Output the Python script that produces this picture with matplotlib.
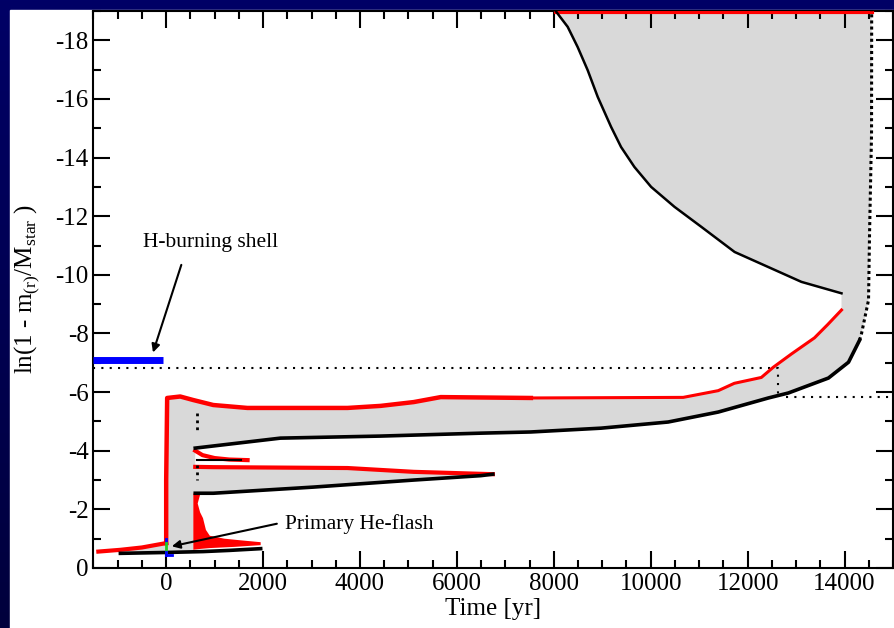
import numpy as np
import matplotlib
matplotlib.use('Agg')
import matplotlib.pyplot as plt
from matplotlib.patches import Rectangle
from matplotlib.ticker import MultipleLocator

plt.rcParams['font.family'] = ['Liberation Serif', 'DejaVu Serif']
plt.rcParams['axes.unicode_minus'] = False
plt.rcParams['mathtext.fontset'] = 'custom'
plt.rcParams['mathtext.rm'] = 'Liberation Serif'

# Outer (red) edge of the flash driven convective shell, time in yr, ln(1-m/M)
shell_top_x = [0, 0, 20, 290, 558, 972, 1675, 3743, 4425, 5108, 5666, 7527,
               10670, 11394, 11725, 12283, 12531, 12903, 13379, 13650, 13937]
shell_top_y = [-0.85, -3.0, -5.8, -5.85, -5.73, -5.56, -5.46, -5.46, -5.53, -5.66,
               -5.83, -5.8, -5.82, -6.05, -6.3, -6.5, -6.85, -7.3, -7.85, -8.3, -8.8]

# Inner (black) edge of the shell
shell_base_x = [600, 2357, 4425, 6500, 7527, 8975, 10360, 11394, 12428, 12841,
                13668, 14082, 14310]
shell_base_y = [-4.09, -4.43, -4.5, -4.6, -4.64, -4.77, -4.98, -5.32, -5.8, -5.97,
                -6.48, -7.02, -7.77]

# Envelope convection: right edge and base
env_right_x = [14310, 14351, 14495, 14516, 14557, 14560]
env_right_y = [-7.77, -8.0, -9.14, -11.4, -14.8, -19.0]
env_base_x = [13937, 13110, 12421, 11731, 11042, 10490, 10008, 9663, 9388, 9181,
              8906, 8699, 8492, 8286, 8079, 8040]
env_base_y = [-9.37, -9.76, -10.27, -10.78, -11.64, -12.32, -13.0, -13.68, -14.36,
              -15.05, -16.07, -16.98, -17.77, -18.46, -18.91, -19.0]

# Second convective band
mid_top_x = [600, 972, 3743, 5108, 6741]
mid_top_y = [-3.45, -3.44, -3.41, -3.28, -3.2]
mid_base_x = [600, 972, 3040, 5108, 6493, 6741]
mid_base_y = [-2.55, -2.55, -2.76, -3.0, -3.15, -3.2]

# Short lived tongue
tongue_x = [600, 750, 1000, 1300, 1680]
tongue_y = [-4.0, -3.85, -3.75, -3.7, -3.68]

# Pre-flash region near the bottom
pre_red_x = [-1400, -945, -500, 0]
pre_red_y = [-0.56, -0.62, -0.7, -0.85]
pre_black_x = [-945, 0, 760, 1300, 1950]
pre_black_y = [-0.5, -0.53, -0.56, -0.6, -0.66]

blob_x = [560, 700, 650, 700, 760, 820, 900, 1200, 1500, 1950, 1950, 1400, 900, 700, 560]
blob_y = [-2.55, -2.5, -2.2, -1.9, -1.7, -1.3, -1.1, -1.0, -0.95, -0.88, -0.78,
          -0.72, -0.68, -0.65, -0.62]

# H-burning shell before the flash
hshell_x = [-1500, -60]
hshell_y = [-7.1, -7.1]

# Dotted guide lines
guide1_x = [-1500, 12634, 12634]
guide1_y = [-6.83, -6.83, -5.9]
guide2_x = [12800, 15000]
guide2_y = [-5.83, -5.83]

fig = plt.figure(figsize=(8.95, 6.28), dpi=100)

# dark blue frame behind a white panel
bg = fig.add_axes([0, 0, 1, 1], zorder=-10)
grad = np.linspace(0, 1, 256).reshape(-1, 1)
bg.imshow(grad, aspect='auto', extent=[0, 1, 0, 1],
          cmap=matplotlib.colors.LinearSegmentedColormap.from_list('navy', ['#000066', '#00003c']))
bg.axis('off')
fig.add_artist(Rectangle((10 / 895, 0), (893 - 10) / 895, 618 / 628,
                         transform=fig.transFigure, color='white', zorder=-5))

ax = fig.add_axes([93.5 / 895, 60 / 628, (893 - 93.5) / 895, (568 - 11) / 628])
ax.set_facecolor('white')

grey = '#d9d9d9'
# main convective region: shell + envelope joined
poly_x = (shell_top_x + env_base_x + [14560] + env_right_x[::-1] + shell_base_x[::-1]
          + mid_top_x + mid_base_x[::-1] + [560, 560, 0])
poly_y = (shell_top_y + env_base_y + [-19.0] + env_right_y[::-1] + shell_base_y[::-1]
          + mid_top_y + mid_base_y[::-1] + [-2.55, -0.58, -0.53])
ax.fill(poly_x, poly_y, color=grey, lw=0, zorder=1)
ax.fill(pre_red_x[1:] + pre_black_x[:2][::-1], pre_red_y[1:] + pre_black_y[:2][::-1],
        color=grey, lw=0, zorder=1)

# guides
ax.plot(guide1_x, guide1_y, color='black', ls=(0, (1, 3)), lw=1.5, zorder=2)
ax.plot(guide2_x, guide2_y, color='black', ls=(0, (1, 3)), lw=1.5, zorder=2)

# red boundaries
ax.plot(shell_top_x[:12], shell_top_y[:12], color='red', lw=3.2, zorder=3)
ax.plot(shell_top_x[11:], shell_top_y[11:], color='red', lw=2.2, zorder=3)
ax.plot(mid_top_x, mid_top_y, color='red', lw=3, zorder=3)
ax.plot(tongue_x, tongue_y, color='red', lw=3, zorder=3)
ax.plot([env_base_x[-1], env_right_x[-2]], [-18.95, -18.95], color='red', lw=3, zorder=3)
ax.plot(pre_red_x, pre_red_y, color='red', lw=3, zorder=3)
ax.fill(blob_x, blob_y, color='red', lw=0, zorder=3)

# black boundaries
ax.plot(shell_base_x, shell_base_y, color='black', lw=2.6, zorder=4)
ax.plot(mid_base_x, mid_base_y, color='black', lw=2.6, zorder=4)
ax.plot(env_base_x, env_base_y, color='black', lw=1.8, zorder=4)
ax.plot(env_right_x, env_right_y, color='black', ls=(0, (1, 1)), lw=2.2, zorder=4)
ax.plot(pre_black_x, pre_black_y, color='black', lw=2.6, zorder=4)
ax.plot([630, 630], [-5.3, -4.6], color='black', ls=(0, (1, 1.5)), lw=2, zorder=4)
ax.plot([630, 630], [-3.5, -3.0], color='black', ls=(0, (1, 1.5)), lw=2, zorder=4)
ax.plot([630, 1550], [-3.68, -3.68], color='black', lw=1.5, zorder=4)

# H-burning shell and flash marker
ax.plot(hshell_x, hshell_y, color='blue', lw=5, solid_capstyle='butt', zorder=5)
ax.plot([0, 0], [-1.0, -0.85], color='blue', lw=2, zorder=5)
ax.plot([0, 0], [-0.85, -0.55], color='#22cc22', lw=2, zorder=5)
ax.plot([0, 0], [-0.55, -0.45], color='blue', lw=2, zorder=5)
ax.plot([0, 120], [-0.45, -0.45], color='blue', lw=2, zorder=5)

ax.annotate('', xy=(-290, -7.26), xytext=(330, -10.43),
            arrowprops=dict(arrowstyle='-|>', color='black', lw=1.5,
                            mutation_scale=12), zorder=6)
ax.text(-470, -11.1, 'H-burning shell', fontsize=15.5, va='center', ha='left')
ax.annotate('', xy=(60, -0.72), xytext=(2340, -1.53),
            arrowprops=dict(arrowstyle='-|>', color='black', lw=1.5,
                            mutation_scale=12), zorder=6)
ax.text(2445, -1.5, 'Primary He-flash', fontsize=15.5, va='center', ha='left')

ax.set_xlim(-1500, 15000)
ax.set_ylim(0, -19)
ax.xaxis.set_major_locator(MultipleLocator(2000))
ax.xaxis.set_minor_locator(MultipleLocator(500))
ax.yaxis.set_major_locator(MultipleLocator(2))
ax.yaxis.set_minor_locator(MultipleLocator(1))
ax.tick_params(which='both', direction='in', top=True, right=True, width=1.5,
               labelsize=18)
ax.tick_params(which='major', length=12)
ax.tick_params(which='minor', length=6)
for s in ax.spines.values():
    s.set_linewidth(1.5)

ax.set_xlabel('Time [yr]', fontsize=18, labelpad=2)
ax.set_ylabel(r'ln(1 - m$_{\rm (r)}$/M$_{\rm star}$ )', fontsize=18, va='center')
ax.yaxis.set_label_coords(-(93.5 - 27) / 799.5, 0.5)

fig.savefig('out.png', dpi=100)
